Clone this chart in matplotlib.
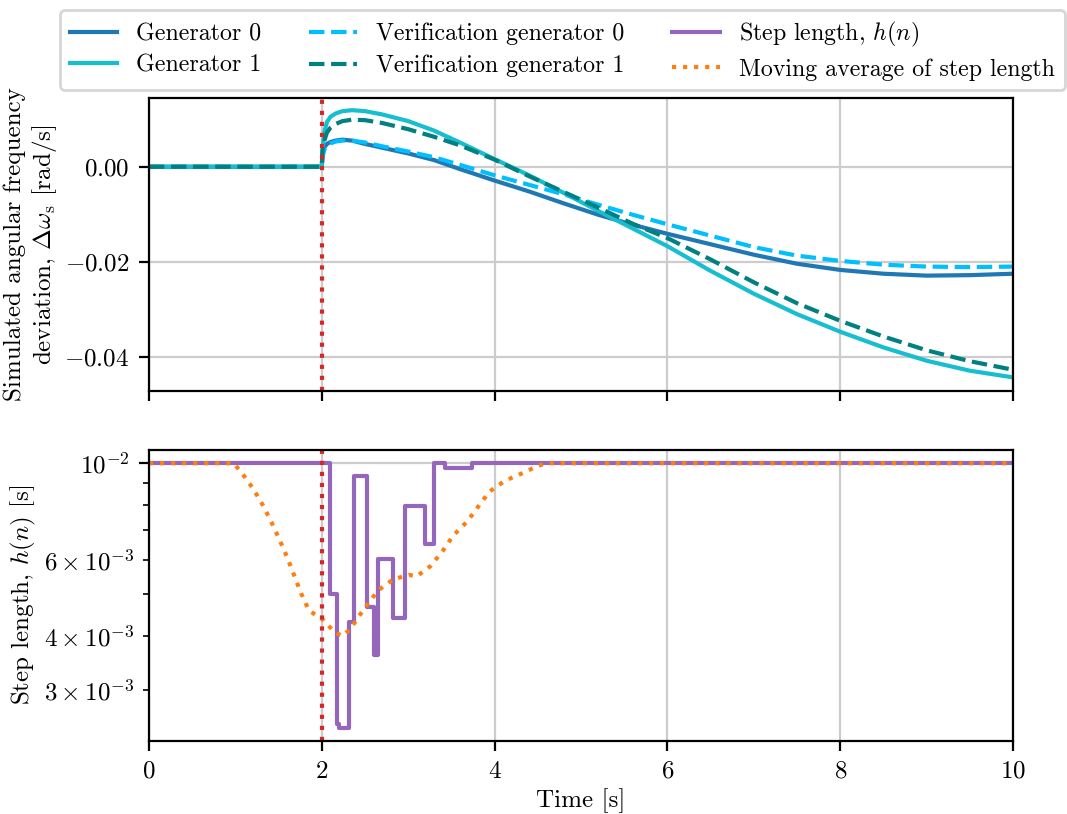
import matplotlib
matplotlib.use('Agg')
import matplotlib.pyplot as plt

plt.rcParams['font.family'] = 'serif'
plt.rcParams['font.serif'] = ['cmr10']
plt.rcParams['mathtext.fontset'] = 'cm'
plt.rcParams['axes.formatter.use_mathtext'] = True
plt.rcParams['font.size'] = 9

# time axis of the simulated frequency deviations
t_sim = [0, 2.0, 2.01, 2.03, 2.06, 2.1, 2.16, 2.24, 2.35, 2.5, 2.7, 3.0, 3.3, 3.6, 4.0,
         4.4, 4.8, 5.2, 5.6, 6.0, 6.5, 7.0, 7.5, 8.0, 8.5, 9.0, 9.5, 10.0]

gen0 = [0, 0, 0.0032, 0.0041, 0.0048, 0.0052, 0.0055, 0.0057, 0.0055, 0.0048, 0.0040, 0.0028,
        0.0014, -0.0005, -0.0029, -0.0052, -0.0077, -0.0101, -0.0122, -0.0141, -0.0163,
        -0.0185, -0.0204, -0.0217, -0.0225, -0.0229, -0.0228, -0.0225]
gen1 = [0, 0, 0.0040, 0.0073, 0.0094, 0.0105, 0.0112, 0.0117, 0.0119, 0.0117, 0.0110, 0.0096,
        0.0076, 0.0051, 0.0016, -0.0018, -0.0055, -0.0093, -0.0130, -0.0167, -0.0219,
        -0.0267, -0.0310, -0.0347, -0.0380, -0.0408, -0.0429, -0.0443]
ver0 = [0, 0, 0.0022, 0.0036, 0.0044, 0.0049, 0.0053, 0.0055, 0.0055, 0.0051, 0.0043, 0.0032,
        0.0020, 0.0004, -0.0018, -0.0038, -0.0058, -0.0080, -0.0101, -0.0121, -0.0145,
        -0.0169, -0.0187, -0.0198, -0.0206, -0.0210, -0.0211, -0.0210]
ver1 = [0, 0, 0.0036, 0.0055, 0.0072, 0.0082, 0.0090, 0.0096, 0.0099, 0.0098, 0.0092, 0.0079,
        0.0063, 0.0045, 0.0015, -0.0020, -0.0053, -0.0086, -0.0120, -0.0150, -0.0195,
        -0.0243, -0.0287, -0.0324, -0.0357, -0.0386, -0.0409, -0.0427]

# step length (piecewise constant, value holds from each time to the next)
step_t = [0, 2.09, 2.18, 2.20, 2.32, 2.37, 2.52, 2.60, 2.65, 2.83, 2.96, 3.19, 3.30, 3.43, 3.74, 10]
step_h = [1e-2, 5.0e-3, 2.51e-3, 2.46e-3, 4.30e-3, 9.34e-3, 4.67e-3, 3.62e-3, 6.02e-3, 4.39e-3,
          7.97e-3, 6.53e-3, 1e-2, 9.74e-3, 1e-2, 1e-2]

# moving average of step length
ma_t = [0, 0.98, 1.08, 1.21, 1.32, 1.42, 1.51, 1.60, 1.68, 1.76, 1.85, 1.93, 2.01, 2.15, 2.24,
        2.33, 2.45, 2.65, 2.83, 3.01, 3.10, 3.26, 3.40, 3.52, 3.68, 3.81, 3.94, 4.12, 4.33,
        4.51, 4.62, 10]
ma_h = [1e-2, 1e-2, 9.47e-3, 8.71e-3, 7.99e-3, 7.30e-3, 6.67e-3, 6.07e-3, 5.52e-3, 5.02e-3,
        4.59e-3, 4.47e-3, 4.37e-3, 4.08e-3, 4.00e-3, 4.15e-3, 4.50e-3, 5.09e-3, 5.41e-3,
        5.53e-3, 5.49e-3, 5.80e-3, 6.28e-3, 6.81e-3, 7.33e-3, 7.94e-3, 8.60e-3, 9.11e-3,
        9.50e-3, 9.88e-3, 1e-2, 1e-2]

fault_time = 2.0

fig = plt.figure(figsize=(5.335, 4.07), dpi=200)
ax1 = fig.add_axes([0.1396, 0.5197, 0.8098, 0.3599])
ax2 = fig.add_axes([0.1396, 0.0897, 0.8098, 0.3575], sharex=ax1)

l1, = ax1.plot(t_sim, gen0, color='#1f77b4', label='Generator 0')
l2, = ax1.plot(t_sim, gen1, color='#17becf', label='Generator 1')
l3, = ax1.plot(t_sim, ver0, color='#00bfff', linestyle='--', label='Verification generator 0')
l4, = ax1.plot(t_sim, ver1, color='#008080', linestyle='--', label='Verification generator 1')
ax1.axvline(fault_time, color='#d62728', linestyle=':')
ax1.set_ylim(-0.04716, 0.01446)
ax1.set_ylabel('Simulated angular frequency\ndeviation, $\\Delta\\omega_\\mathrm{s}$ [rad/s]',
               labelpad=2)
ax1.grid(True, color='#cccccc')
ax1.tick_params(labelbottom=False)

l5, = ax2.step(step_t, step_h, where='post', color='#9467bd', label='Step length, $h(n)$')
l6, = ax2.plot(ma_t, ma_h, color='#ff7f0e', linestyle=':', label='Moving average of step length')
ax2.axvline(fault_time, color='#d62728', linestyle=':')
ax2.set_yscale('log')
ax2.set_ylim(2.293e-3, 1.0726e-2)
ax2.set_xlim(0, 10)
ax2.set_xlabel('Time [s]', labelpad=2)
ax2.set_ylabel('Step length, $h(n)$ [s]', labelpad=2)
ax2.grid(True, color='#cccccc')

handles = [l1, l2, l3, l4, l5, l6]
fig.legend(handles, [h.get_label() for h in handles], loc='upper left',
           bbox_to_anchor=(0.0562, 0.9877), borderaxespad=0, ncol=3, fontsize=8.6,
           labelspacing=0.4)

fig.savefig('out.png', dpi=200)
